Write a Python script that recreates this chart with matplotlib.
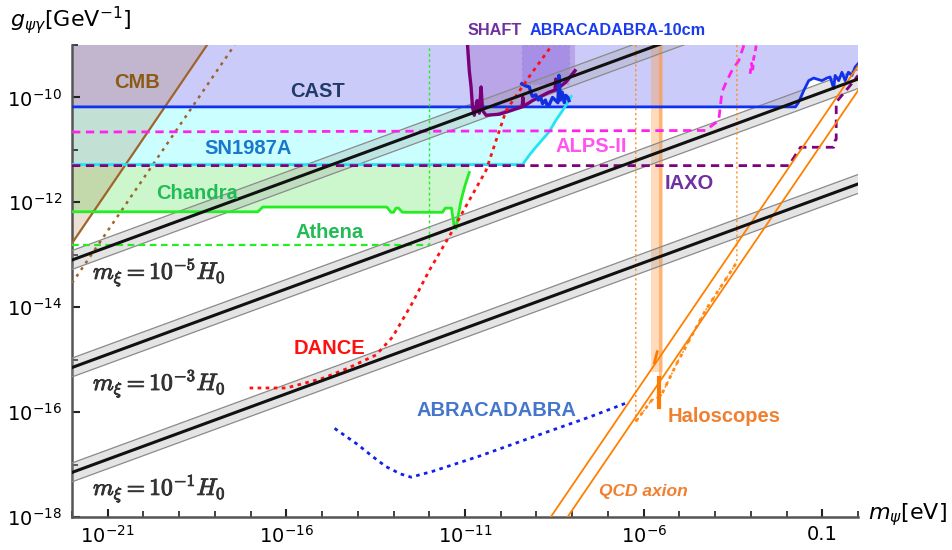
import numpy as np
import matplotlib
matplotlib.use('Agg')
import matplotlib.pyplot as plt
import matplotlib.patheffects as pe
from matplotlib.ticker import FixedLocator, FixedFormatter, NullFormatter

plt.rcParams['font.family'] = ['Liberation Sans', 'DejaVu Sans']

# ---------------- data (log10 of mass [eV] and coupling [GeV^-1]) ----------------
x_lim = [-22.0, 0.0]
y_lim = [-18.0, -9.0]

mxi_labels = [r'$m_\xi = 10^{-5}H_0$', r'$m_\xi = 10^{-3}H_0$', r'$m_\xi = 10^{-1}H_0$']
mxi_log_m = [-22.0, 0.0]
mxi_log_g = [[-13.1, -7.6], [-15.15, -9.65], [-17.15, -11.65]]
mxi_halfwidth = 0.18

cmb_log_m = [-22.0, -18.22]
cmb_log_g = [-12.78, -9.0]
cmb_future_log_m = [-22.0, -17.45]
cmb_future_log_g = [-13.54, -9.0]

cast_log_m = [-22, -1.75, -1.66, -1.52, -1.38, -1.24, -1.01, -0.87, -0.78, -0.68, -0.64,
              -0.54, -0.45, -0.36, -0.27, -0.17, -0.08, 0.0]
cast_log_g = [-10.18, -10.18, -10.09, -9.87, -9.68, -9.63, -9.68, -9.63, -9.61, -9.83, -9.58,
              -9.68, -9.52, -9.68, -9.52, -9.58, -9.42, -9.36]

sn_log_m = [-22.0, -9.39, -9.20, -9.02, -8.65, -8.46, -8.27, -8.09, -8.03]
sn_log_g = [-11.28, -11.28, -11.10, -10.95, -10.66, -10.44, -10.25, -10.06, -9.98]

chandra_log_m = [-22.0, -16.80, -16.66, -13.19, -13.07, -13.0, -12.93, -12.86, -12.75, -11.63,
                 -11.55, -11.38, -11.30, -11.25, -11.19, -11.11, -11.0, -10.88]
chandra_log_g = [-12.18, -12.18, -12.09, -12.09, -12.19, -12.19, -12.11, -12.11, -12.19, -12.19,
                 -12.11, -12.11, -12.47, -12.50, -12.25, -11.96, -11.68, -11.43]

athena_log_m = [-22.0, -12.0]
athena_log_g = [-12.82, -12.82]

alps_log_m = [-22.0, -4.27, -3.90, -3.85, -3.81, -3.67, -3.53, -3.34, -3.19]
alps_log_g = [-10.66, -10.63, -10.44, -10.15, -9.90, -9.68, -9.49, -9.30, -9.0]
alps_extra_log_m = [-3.02, -2.98, -2.95, -2.92, -2.88, -2.85]
alps_extra_log_g = [-9.55, -9.35, -9.50, -9.25, -9.15, -9.0]

iaxo_log_m = [-22.0, -1.94, -1.61, -0.68, -0.64, -0.61, -0.61, -0.18, 0.0]
iaxo_log_g = [-11.30, -11.30, -10.95, -10.95, -10.82, -10.80, -10.09, -9.74, -9.58]

shaft_log_m = [-10.93, -10.88, -10.83, -10.79, -10.74, -10.70, -10.66, -10.60, -10.55, -10.51,
               -10.41, -10.04, -9.80, -9.58, -9.40, -9.38, -9.36, -9.11, -8.65, -8.48, -8.46,
               -8.44, -8.18, -7.92]
shaft_log_g = [-9.0, -9.49, -9.80, -10.18, -10.34, -10.20, -10.06, -10.30, -9.80, -10.25,
               -10.34, -10.32, -10.27, -10.22, -10.18, -10.0, -10.17, -10.06, -9.90, -9.86, -9.65,
               -9.85, -9.71, -9.49]

abra10_box_m = [-9.41, -8.09]
abra10_box_g = [-9.74, -9.0]
abra10_log_m = [-9.41, -9.30, -9.20, -9.15, -9.11, -9.02, -8.95, -8.88, -8.83, -8.75, -8.70,
                -8.65, -8.55, -8.46, -8.40, -8.37, -8.33, -8.28, -8.22, -8.18, -8.12, -8.09]
abra10_log_g = [-9.74, -9.78, -9.80, -9.92, -9.98, -9.95, -10.05, -10.0, -10.12, -10.05, -10.15,
                -10.15, -10.0, -10.06, -10.1, -9.58, -10.05, -9.9, -10.1, -9.96, -10.0, -10.06]

dance_log_m = [-17.03, -16.0, -15.0, -14.3, -13.49, -13.03, -12.5, -12.0, -11.4, -10.88,
               -10.41, -9.85, -9.2, -8.56]
dance_log_g = [-15.54, -15.54, -15.36, -15.17, -14.91, -14.57, -13.95, -13.30, -12.60, -11.96,
               -11.39, -10.25, -9.60, -9.0]

abra_log_m = [-14.65, -14.0, -13.6, -13.21, -12.8, -12.51, -11.91, -10.6, -9.0, -7.5, -6.50]
abra_log_g = [-16.31, -16.62, -16.84, -17.04, -17.18, -17.24, -17.13, -16.84, -16.45, -16.09, -15.83]

halo_band_m = [-5.79, -5.46]
halo_band_g = [-15.24, -9.0]
halo_center_m = -5.54
halo_dark_m = [-5.57, -5.57]
halo_dark_g = [-15.35, -15.90]
halo_dark2_m = [-5.70, -5.62]
halo_dark2_g = [-15.06, -14.85]
halo_limit_log_m = [-6.22, -6.22, -5.77, -5.53, -5.07, -4.27, -3.39, -3.39]
halo_limit_log_g = [-9.0, -16.18, -15.77, -15.71, -15.07, -14.06, -13.14, -9.0]

qcd_log_m = [[-8.60, 0.0], [-8.13, 0.0]]
qcd_log_g = [[-18.0, -9.40], [-18.0, -9.87]]

x_major = [-21, -16, -11, -6, -1]
x_major_labels = [r'$10^{-21}$', r'$10^{-16}$', r'$10^{-11}$', r'$10^{-6}$', '0.1']
y_major = [-18, -16, -14, -12, -10]
y_major_labels = [r'$10^{-18}$', r'$10^{-16}$', r'$10^{-14}$', r'$10^{-12}$', r'$10^{-10}$']


def P(a):
    return 10.0 ** np.asarray(a, dtype=float)


fig = plt.figure(figsize=(9.52, 5.5), dpi=100)
ax = fig.add_axes([72 / 952, 33 / 550, 786 / 952, 472 / 550])
ax.set_xscale('log')
ax.set_yscale('log')
ax.set_xlim(P(x_lim))
ax.set_ylim(P(y_lim))

top = y_lim[1]

# ---- filled regions ----
# CAST
cx = list(cast_log_m) + [cast_log_m[-1], cast_log_m[0]]
cy = list(cast_log_g) + [top, top]
ax.fill(P(cx), P(cy), facecolor='#6a6af0', alpha=0.35, lw=0, zorder=1)
# SN1987A
sn_top = cast_log_g[0]
sx = sn_log_m[:7] + [-8.2, sn_log_m[0]]
sy = sn_log_g[:7] + [sn_top, sn_top]
ax.fill(P(sx), P(sy), facecolor='#33ffff', alpha=0.25, lw=0, zorder=1)
# Chandra
chx = list(chandra_log_m) + [chandra_log_m[-1], chandra_log_m[0]]
chy = list(chandra_log_g) + [sn_log_g[0], sn_log_g[0]]
ax.fill(P(chx), P(chy), facecolor='#44e044', alpha=0.27, lw=0, zorder=1)
# CMB
ax.fill(P([cmb_log_m[0], cmb_log_m[1], cmb_log_m[0]]), P([cmb_log_g[0], cmb_log_g[1], top]),
        facecolor='#a0642a', alpha=0.2, lw=0, zorder=1.5)
# SHAFT
shx = list(shaft_log_m) + [shaft_log_m[-1], shaft_log_m[0]]
shy = list(shaft_log_g) + [top, top]
ax.fill(P(shx), P(shy), facecolor='#9a5ec8', alpha=0.35, lw=0, zorder=1.6)
# ABRACADABRA-10cm box
bx = [abra10_box_m[0], abra10_box_m[1], abra10_box_m[1], abra10_box_m[0]]
by = [abra10_box_g[0], abra10_box_g[0], abra10_box_g[1], abra10_box_g[1]]
ax.fill(P(bx), P(by), facecolor='#5a3ad8', alpha=0.2, edgecolor='#7060e0',
        linestyle=(0, (2, 2)), lw=1.0, zorder=1.7)
# Haloscope band
hx = [halo_band_m[0], halo_band_m[1], halo_band_m[1], halo_band_m[0]]
hy = [halo_band_g[0], halo_band_g[0], halo_band_g[1], halo_band_g[1]]
ax.fill(P(hx), P(hy), facecolor='#ff9a40', alpha=0.35, lw=0, zorder=1.8)
ax.plot(P([halo_center_m, halo_center_m]), P([halo_band_g[0] - 0.1, top]), color='#ff9a40',
        lw=2.2, alpha=0.6, zorder=1.9)

# ---- m_xi bands ----
for lg in mxi_log_g:
    lg = np.asarray(lg)
    ax.fill_between(P(mxi_log_m), P(lg - mxi_halfwidth), P(lg + mxi_halfwidth),
                    facecolor='#a0a0a0', alpha=0.28, edgecolor='none', zorder=3)
    ax.plot(P(mxi_log_m), P(lg - mxi_halfwidth), color='#8a8a8a', lw=0.9, zorder=3.1)
    ax.plot(P(mxi_log_m), P(lg + mxi_halfwidth), color='#8a8a8a', lw=0.9, zorder=3.1)
    ax.plot(P(mxi_log_m), P(lg), color='#111111', lw=2.2, zorder=6)

# ---- lines ----
ax.plot(P(cmb_log_m), P(cmb_log_g), color='#a0642a', lw=1.6, zorder=4)
ax.plot(P(cmb_future_log_m), P(cmb_future_log_g), color='#a0642a', lw=1.8,
        linestyle=(0, (1.2, 2.0)), zorder=4)
ax.plot(P(cast_log_m), P(cast_log_g), color='#1030f0', lw=2.0, zorder=4)
ax.plot(P(sn_log_m), P(sn_log_g), color='#22e4f4', lw=2.0, zorder=4)
ax.plot(P(chandra_log_m), P(chandra_log_g), color='#22ee22', lw=2.0, zorder=4)
ax.plot(P(athena_log_m), P(athena_log_g), color='#22ee22', lw=1.6, linestyle=(0, (3, 2)), zorder=4)
ax.plot(P([athena_log_m[1], athena_log_m[1]]), P([athena_log_g[1], top]), color='#22ee22',
        lw=1.0, linestyle=(0, (2, 2)), zorder=4)
ax.plot(P(alps_log_m), P(alps_log_g), color='#ff22ee', lw=2.0, linestyle=(0, (3, 2)), zorder=4)
ax.plot(P(alps_extra_log_m), P(alps_extra_log_g), color='#ff22ee', lw=2.0,
        linestyle=(0, (2, 1.5)), zorder=4)
ax.plot(P(iaxo_log_m), P(iaxo_log_g), color='#800080', lw=2.0, linestyle=(0, (3, 2)), zorder=4)
ax.plot(P(shaft_log_m), P(shaft_log_g), color='#7a007a', lw=2.4, zorder=4.5)
ax.plot(P(abra10_log_m), P(abra10_log_g), color='#1030e0', lw=2.4, zorder=4.6)
ax.plot(P(dance_log_m), P(dance_log_g), color='#ff1010', lw=2.0, linestyle=(0, (1.3, 1.6)), zorder=5)
ax.plot(P(abra_log_m), P(abra_log_g), color='#1020ee', lw=2.0, linestyle=(0, (1.3, 1.6)), zorder=5)
ax.plot(P(halo_limit_log_m), P(halo_limit_log_g), color='#ff8c1a', lw=1.0,
        linestyle=(0, (1.5, 2.0)), zorder=4)
ax.plot(P(halo_limit_log_m[1:7]), P(halo_limit_log_g[1:7]), color='#ff8c1a', lw=2.0,
        linestyle=(0, (1.3, 1.6)), zorder=4)
ax.plot(P(halo_dark_m), P(halo_dark_g), color='#ff7a00', lw=3.0, zorder=4.5)
ax.plot(P(halo_dark2_m), P(halo_dark2_g), color='#ff7a00', lw=2.0, zorder=4.5)
for qm, qg in zip(qcd_log_m, qcd_log_g):
    ax.plot(P(qm), P(qg), color='#ff8000', lw=1.3, zorder=4)

# ---- labels ----
def lab(x, y, s, color, size=14.5, **kw):
    ax.text(10 ** x, 10 ** y, s, color=color, fontsize=size, fontweight='bold',
            ha='center', va='center', clip_on=False, zorder=10, **kw)

lab(-20.18, -9.71, 'CMB', '#8b5a14')
lab(-15.13, -9.89, 'CAST', '#223a6a')
lab(-17.08, -10.97, 'SN1987A', '#1a78cc')
lab(-18.5, -11.83, 'Chandra', '#22bb55')
lab(-14.79, -12.57, 'Athena', '#22bb55')
lab(-10.18, -8.72, 'SHAFT', '#7030a0', size=11.7)
lab(-6.74, -8.72, 'ABRACADABRA-10cm', '#1a3cf0', size=11.7)
lab(-7.47, -10.93, 'ALPS-II', '#ff55ee')
lab(-4.73, -11.64, 'IAXO', '#7030a0')
lab(-14.79, -14.78, 'DANCE', '#ff1010')
lab(-10.13, -15.96, 'ABRACADABRA', '#4477cc')
lab(-3.76, -16.08, 'Haloscopes', '#f08030')
ax.text(10 ** -6.0, 10 ** -17.52, 'QCD axion', color='#f08030', fontsize=12.5, fontweight='bold',
        style='italic', ha='center', va='center', zorder=10)

mxi_label_y = [-13.33, -15.45, -17.45]
for s, yy in zip(mxi_labels, mxi_label_y):
    ax.text(10 ** -21.41, 10 ** yy, s, color='#333333', fontsize=17, ha='left', va='center',
            math_fontfamily='cm', zorder=10,
            path_effects=[pe.withStroke(linewidth=0.7, foreground='#333333')])

# ---- axes styling ----
for side in ['top', 'right']:
    ax.spines[side].set_visible(False)
for side in ['left', 'bottom']:
    ax.spines[side].set_color('#555555')
    ax.spines[side].set_linewidth(1.8)

ax.xaxis.set_major_locator(FixedLocator(P(x_major)))
ax.xaxis.set_major_formatter(FixedFormatter(x_major_labels))
ax.xaxis.set_minor_locator(FixedLocator(P([d for d in range(-22, 1) if d not in x_major])))
ax.xaxis.set_minor_formatter(NullFormatter())
ax.yaxis.set_major_locator(FixedLocator(P(y_major)))
ax.yaxis.set_major_formatter(FixedFormatter(y_major_labels))
ax.yaxis.set_minor_locator(FixedLocator(P([d for d in range(-18, -8) if d not in y_major])))
ax.yaxis.set_minor_formatter(NullFormatter())
ax.tick_params(which='major', direction='in', length=6, width=1.5, color='#222222',
               labelsize=14, pad=6)
ax.tick_params(which='minor', direction='in', length=4, width=1.2, color='#222222')
ax.tick_params(axis='y', which='major', pad=7)
for t in ax.get_xticklabels() + ax.get_yticklabels():
    t.set_family('DejaVu Sans')

fig.text(10 / 952, 1 - 20 / 550, r'$g_{\psi\gamma}$[GeV$^{-1}$]', fontsize=16, ha='left',
         va='center', family='DejaVu Sans')
fig.text(868 / 952, 1 - 515 / 550, r'$m_{\psi}$[eV]', fontsize=16, ha='left', va='center',
         family='DejaVu Sans')

fig.savefig('out.png', dpi=100)
